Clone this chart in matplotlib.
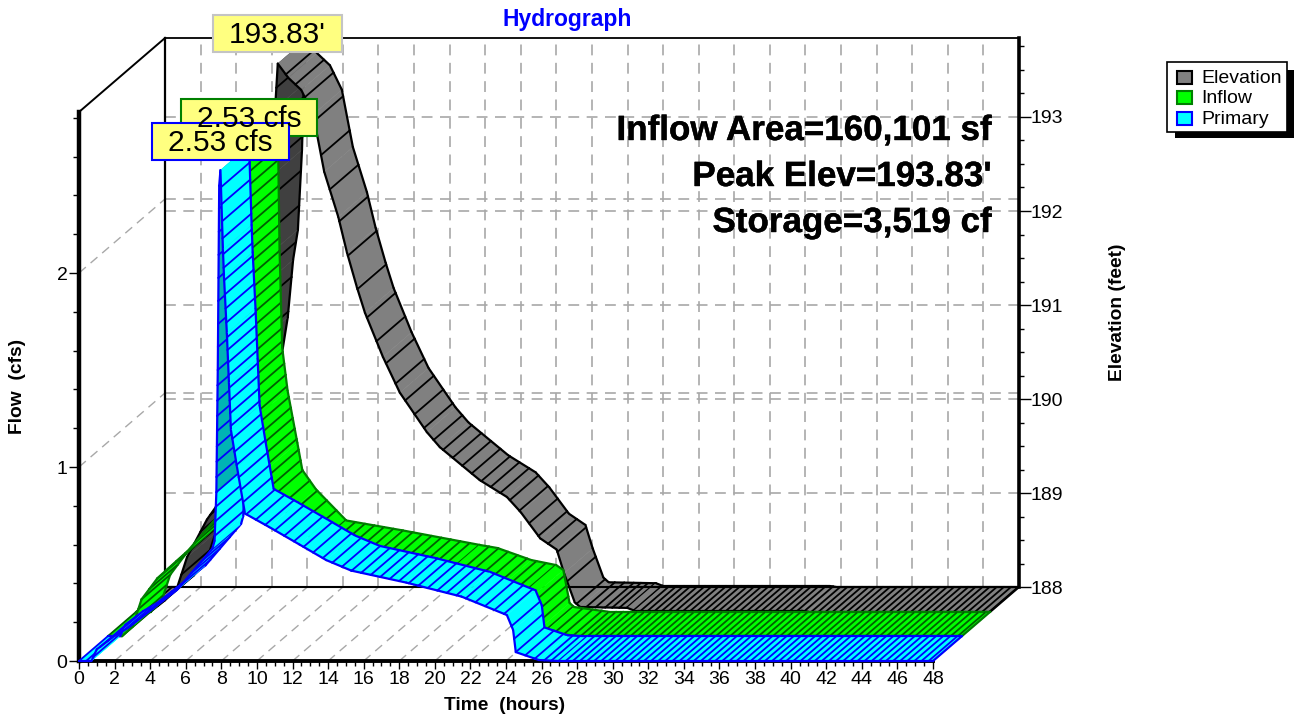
import numpy as np
import matplotlib
matplotlib.use("Agg")
import matplotlib.pyplot as plt
import matplotlib.patheffects as pe
from matplotlib.patches import Polygon, Rectangle

plt.rcParams['font.family'] = ['Liberation Sans', 'DejaVu Sans']

W, H = 1294, 719
# ---- data
elev_t = [0, 0.8, 1.6, 2.3, 2.85, 3.97, 4.53, 5.5, 6.0, 6.63, 6.9, 7.2, 7.47, 7.7, 7.8, 7.95, 8.54, 9.27, 9.94,
          10.56, 11.35, 11.84, 12.4, 12.85, 13.86, 14.81, 16.33, 17.06, 19.3, 20.83, 21.6, 22.7, 23.63,
          24.04, 24.64, 24.94, 27.6, 28, 37.4, 37.75, 48]
elev_v = [188, 188, 188.12, 188.26, 188.58, 188.98, 189.13, 189.6, 190.0, 190.55, 190.87, 191.48, 191.8, 192.65, 193.35, 193.83, 193.68,
          193.55, 193.29, 192.68, 192.2, 191.82, 191.45, 191.18, 190.71, 190.33, 189.91, 189.75, 189.4,
          189.22, 189.06, 188.78, 188.66, 188.41, 188.1, 188.05, 188.04, 188.01, 188.01, 188.0, 188.0]
inflow_t = [0, 0.8, 1.4, 1.9, 2.8, 4.5, 6.2, 7.0, 7.5, 7.8, 7.9, 7.95, 8.05, 8.2, 8.5, 9.05, 9.33, 10.1, 11.8,
            14.9, 19.3, 20.3, 22.2, 23.6, 24.0, 24.35, 24.6, 26.5, 48]
inflow_v = [0, 0, 0.05, 0.19, 0.30, 0.44, 0.62, 0.75, 0.95, 1.5, 2.3, 2.53, 1.86, 1.36, 1.14, 0.87, 0.73, 0.63,
            0.47, 0.42, 0.344, 0.328, 0.266, 0.24, 0.215, 0.045, 0.024, 0, 0]
prim_t = [0, 0.7, 1.0, 2.0, 2.75, 5.5, 7.5, 7.62, 7.72, 7.8, 7.88, 7.95, 8.09, 8.15, 8.31, 8.43, 8.54, 8.88, 9.33, 10.7,
          12.4, 13.9, 15.3, 18.4, 21.5, 24.05, 24.4, 24.55, 25.85, 27, 48]
prim_v = [0, 0, 0.06, 0.13, 0.17, 0.366, 0.58, 0.62, 0.87, 1.5, 2.45, 2.53, 2.12, 1.98, 1.69, 1.43, 1.19, 1.0, 0.76, 0.69,
          0.60, 0.52, 0.466, 0.404, 0.332, 0.237, 0.16, 0.046, 0.005, 0, 0]
x_ticks = list(range(0, 49, 2))
flow_ticks = [0, 1, 2]
elev_ticks = [188, 189, 190, 191, 192, 193]
series_names = ['Elevation', 'Inflow', 'Primary']
peak_labels = ["193.83'", "2.53 cfs", "2.53 cfs"]
info_lines = ["Inflow Area=160,101 sf", "Peak Elev=193.83'", "Storage=3,519 cf"]

fig = plt.figure(figsize=(W / 100, H / 100), dpi=100, facecolor='white')


def frac_rect(x0, y0, x1, y1):
    return [x0 / W, 1 - y1 / H, (x1 - x0) / W, (y1 - y0) / H]


GRID = '#a8a8a8'
GD = (0, (6.5, 4.5))
DEPTH = (86.0, 74.0)
PX_T = 17.79

# back wall carries elevation, front plane carries flow
back = fig.add_axes(frac_rect(165, 38, 1019, 587), zorder=1)
back.set_xlim(0, 48)
back.set_ylim(188, 188 + 549 / 94)
back.patch.set_alpha(0)
front = fig.add_axes(frac_rect(79, 112, 933, 661), zorder=2)
front.set_xlim(0, 48)
front.set_ylim(0, 549 / 194)
front.patch.set_alpha(0)


def shift(ax, frac):
    sy = 94.0 if ax is back else 194.0
    return DEPTH[0] * frac / PX_T, DEPTH[1] * frac / sy


# ---- axes furniture
for side, lw in [('right', 2.6), ('left', 1.6), ('top', 1.3), ('bottom', 1.5)]:
    back.spines[side].set_linewidth(lw)
back.set_xticks([])
back.yaxis.tick_right()
back.set_yticks(elev_ticks)
back.set_yticks(np.arange(188, 193.9, 0.25), minor=True)
back.tick_params(axis='y', which='major', length=8.6, width=1, labelsize=14, pad=0, direction='out')
back.tick_params(axis='y', which='minor', length=3.6, width=1, direction='out')

for s in front.spines.values():
    s.set_visible(False)
front.spines['left'].set_visible(True)
front.spines['left'].set_linewidth(3.2)
front.spines['bottom'].set_visible(True)
front.spines['bottom'].set_linewidth(2.8)
front.set_xticks(x_ticks)
front.set_xticks(np.arange(0, 48.1, 0.5), minor=True)
front.set_yticks(flow_ticks)
front.set_yticks(np.arange(0, 2.81, 0.2), minor=True)
front.tick_params(axis='x', which='major', length=6, width=1, labelsize=14, pad=1, direction='out')
front.tick_params(axis='x', which='minor', length=3.5, width=1, direction='out')
front.tick_params(axis='y', which='major', length=7.2, width=1, labelsize=14, pad=1, direction='out')
front.tick_params(axis='y', which='minor', length=4.3, width=1, direction='out')

fig.text(505 / W, 1 - 705 / H, 'Time  (hours)', ha='center', va='center', fontsize=13.8, fontweight='bold')
fig.text(18 / W, 1 - 386 / H, 'Flow  (cfs)', ha='center', va='center', fontsize=13.8, fontweight='bold', rotation=90)
fig.text(1117 / W, 1 - 312 / H, 'Elevation (feet)', ha='center', va='center', fontsize=13.8, fontweight='bold',
         rotation=90)

# grid on back wall
for t in x_ticks[1:-1]:
    back.plot([t, t], [188, 188 + 549 / 94], color=GRID, lw=1.2, ls=GD, zorder=0.5)
for e in elev_ticks[1:]:
    back.plot([0, 48], [e, e], color=GRID, lw=1.2, ls=GD, zorder=0.5)
dx1, dy1 = shift(front, 1.0)
for f in flow_ticks[1:]:
    back.plot([dx1, 48 + dx1], [f + dy1, f + dy1], color=GRID, lw=1.2, ls=GD, zorder=0.5,
              transform=front.transData)
# left wall and floor
for f in flow_ticks[1:]:
    back.plot([0, dx1], [f, f + dy1], color=GRID, lw=1.0, ls=GD, zorder=0.5, transform=front.transData, clip_on=False)
for t in x_ticks[1:]:
    back.plot([t, t + dx1], [0, dy1], color=GRID, lw=1.0, ls=GD, zorder=0.5, transform=front.transData, clip_on=False)
back.plot([0, dx1], [front.get_ylim()[1], front.get_ylim()[1] + dy1], color='black', lw=1.4,
          transform=front.transData, clip_on=False, zorder=0.6)


def ribbon(ax, t_knots, v_knots, f0, f1, face, dark, line, hatch, dark_win, ystep, z0):
    sy = 94.0 if ax is back else 194.0
    t_knots = np.asarray(t_knots, float)
    v_knots = np.asarray(v_knots, float)
    fine = np.arange(0, 48.0001, 0.01)
    fine_v = np.interp(fine, t_knots, v_knots)
    cross = [0.0]
    last_t, last_v = 0.0, fine_v[0]
    for tt, vv in zip(fine, fine_v):
        gap = 0.53 if 2 < tt < 26.5 else 0.3999
        if tt - last_t >= gap or abs(vv - last_v) * sy >= ystep:
            cross.append(float(tt))
            last_t, last_v = tt, vv
    cross.append(48.0)
    cross = np.array(sorted(set(np.round(cross, 4))))
    nodes = np.array(sorted(set(np.round(np.concatenate([t_knots, cross]), 4))))
    vals = np.interp(nodes, t_knots, v_knots)
    a = shift(ax, f0)
    b = shift(ax, f1)
    z = z0
    kw = dict(clip_on=False, solid_capstyle='round', solid_joinstyle='round')
    for i in range(len(nodes) - 1):
        t0, t1 = nodes[i], nodes[i + 1]
        v0, v1 = vals[i], vals[i + 1]
        quad = [(t0 + a[0], v0 + a[1]), (t1 + a[0], v1 + a[1]), (t1 + b[0], v1 + b[1]), (t0 + b[0], v0 + b[1])]
        is_dark = dark_win[0] <= t0 and t1 <= dark_win[1]
        col = dark if is_dark else face
        ax.add_patch(Polygon(quad, closed=True, facecolor=col, edgecolor=col, lw=0.3, zorder=z, clip_on=False))
        z += 0.0001
        if np.any(np.isclose(cross, t0)):
            ax.plot([t0 + a[0], t0 + b[0]], [v0 + a[1], v0 + b[1]], color=hatch, lw=1.3, zorder=z, **kw)
        ax.plot([t0 + a[0], t1 + a[0]], [v0 + a[1], v1 + a[1]], color=line, lw=1.6, zorder=z, **kw)
        ax.plot([t0 + b[0], t1 + b[0]], [v0 + b[1], v1 + b[1]], color=line, lw=1.6, zorder=z, **kw)
        z += 0.0001
    ax.plot([48 + a[0], 48 + b[0]], [vals[-1] + a[1], vals[-1] + b[1]], color=line, lw=1.6, zorder=z, **kw)


ribbon(back, elev_t, elev_v, -1 / 3, 0, '#808080', '#404040', '#000000', '#000000', (1.6, 7.95), 34, 2)
ribbon(front, inflow_t, inflow_v, 1 / 3, 2 / 3, '#00ff00', '#008000', '#008000', '#006000', (7.5, 7.95), 10, 2)
ribbon(front, prim_t, prim_v, 0, 1 / 3, '#00ffff', '#00b4b4', '#0000ff', '#0000ff', (7.72, 7.95), 12, 3)


def boxed(x0, y0, x1, y1, text, edge, fs=None):
    fig.add_artist(Rectangle((x0 / W, 1 - y1 / H), (x1 - x0) / W, (y1 - y0) / H, transform=fig.transFigure,
                             facecolor='#ffff80', edgecolor=edge, lw=1.5, zorder=10))
    fig.text((x0 + x1) / 2 / W, 1 - ((y0 + y1) / 2 + 1.5) / H, text, ha='center', va='center', fontsize=fs,
             color='black', zorder=11)


boxed(213, 15, 342, 52, peak_labels[0], '#c4c4c4', 21.5)
boxed(181, 99, 317, 136, peak_labels[1], '#008000', 21.5)
boxed(152, 123, 289, 160, peak_labels[2], '#0000ff', 21.5)

for txt, yy in zip(info_lines, [130.5, 176.5, 222.5]):
    fig.text(992 / W, 1 - yy / H, txt, ha='right', va='center', fontsize=25.2, fontweight='bold', zorder=11,
             path_effects=[pe.withStroke(linewidth=0.3, foreground='black')])

fig.text(567 / W, 1 - 19.5 / H, 'Hydrograph', ha='center', va='center', color='#0000ff', fontsize=16.5,
         fontweight='bold', zorder=11)

# legend
fig.add_artist(Rectangle((1175 / W, 1 - 138 / H), (1294 - 1175) / W, (138 - 70) / H, transform=fig.transFigure,
                         facecolor='black', edgecolor='black', lw=0, zorder=10))
fig.add_artist(Rectangle((1167 / W, 1 - 132 / H), 120 / W, 70 / H, transform=fig.transFigure,
                         facecolor='white', edgecolor='black', lw=1.2, zorder=10.1))
for name, fc, ec, yy in zip(series_names, ['#808080', '#00ff00', '#00ffff'], ['#000000', '#008000', '#0000ff'],
                            [77, 97, 118]):
    fig.add_artist(Rectangle((1177 / W, 1 - (yy + 7) / H), 15 / W, 13 / H, transform=fig.transFigure,
                             facecolor=fc, edgecolor=ec, lw=1.5, zorder=10.2))
    fig.text(1201 / W, 1 - (yy + 1.5) / H, name, ha='left', va='center', fontsize=14, zorder=10.3)

fig.savefig('out.png', dpi=100)
